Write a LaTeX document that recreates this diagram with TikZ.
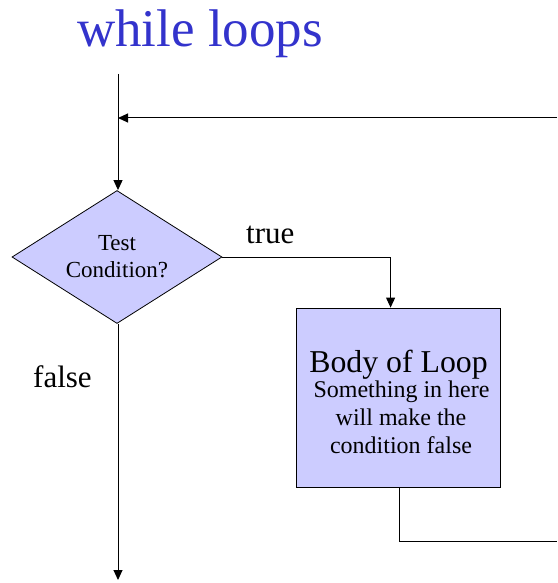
\documentclass[tikz,border=0pt]{standalone}
\usepackage{fontspec}
\setmainfont{Liberation Serif}
\usetikzlibrary{shapes.geometric,arrows.meta}

\definecolor{boxfill}{HTML}{CCCCFF}
\definecolor{titleblue}{HTML}{3333CC}

\tikzset{
  flow/.style={line width=1pt, draw=black},
  flowarrow/.style={flow, -{Triangle[length=10pt,width=9pt]}},
  decision/.style={diamond, draw=black, line width=0.8pt, fill=boxfill,
    minimum width=210pt, minimum height=133pt, inner sep=0pt, shape aspect=1.58,
    align=center, font=\fontsize{23}{27}\selectfont},
  process/.style={rectangle, draw=black, line width=0.8pt, fill=boxfill,
    minimum width=204pt, minimum height=179pt, inner sep=0pt},
  bigtext/.style={font=\fontsize{31.8}{36}\selectfont, inner sep=0pt},
  smalltext/.style={font=\fontsize{24}{28}\selectfont, inner sep=0pt},
  labeltext/.style={font=\fontsize{31}{36}\selectfont, inner sep=0pt}
}

\begin{document}
\begin{tikzpicture}[x=1pt, y=-1pt]
  \useasboundingbox (0,0) rectangle (557,583);

  % heading
  \node[anchor=base, text=titleblue, font=\fontsize{53}{60}\selectfont, inner sep=0pt]
    (title) at (200,46.5) {while loops};

  % entry point and loop-back point
  \coordinate (entry) at (118,74);
  \coordinate (back) at (557,118);
  \coordinate (exit) at (118,580);
  \coordinate (loopout) at (557,541);

  % decision and loop body
  \node[decision] (test) at (117,257) {Test\\Condition?};
  \node[process] (body) at (398,397.5) {};
  \node[bigtext, anchor=base] (bodyhead) at (398.5,372) {Body of Loop};
  \node[smalltext, anchor=base] (bodyl1) at (401.5,397) {Something in here};
  \node[smalltext, anchor=base] (bodyl2) at (401,425) {will make the};
  \node[smalltext, anchor=base] (bodyl3) at (401,453) {condition false};

  % branch labels
  \node[labeltext, anchor=base west] (truelbl) at (246,243) {true};
  \node[labeltext, anchor=base west] (falselbl) at (33,387) {false};

  % connectors
  \draw[flowarrow] (entry) -- (entry |- test.north);
  \draw[flowarrow] (back) -- (back -| entry);
  \draw[flowarrow] (test.east) -| ([xshift=95pt]body.north west);
  \draw[flow] ([xshift=104pt]body.south west) |- (loopout);
  \draw[flowarrow] (entry |- test.south) -- (exit);
\end{tikzpicture}
\end{document}
